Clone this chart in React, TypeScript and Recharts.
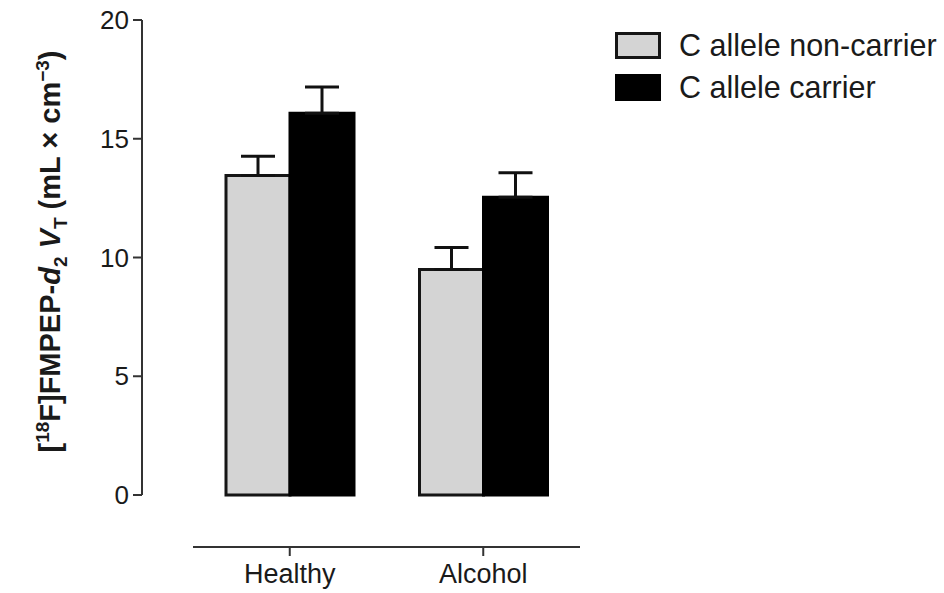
import { BarChart, Bar, XAxis, YAxis, ErrorBar, Legend } from "recharts";

const GROUPS = ["Healthy", "Alcohol"];
const SERIES_NAMES = ["C allele non-carrier", "C allele carrier"];
const NON_CARRIER = [13.45, 9.5];
const NON_CARRIER_SEM = [0.81, 0.92];
const CARRIER = [16.07, 12.54];
const CARRIER_SEM = [1.11, 1.03];
const Y_TICKS = [0, 5, 10, 15, 20];

// one-sided (upward) error bars: [below, above]
const data = GROUPS.map((g, i) => ({
  group: g,
  nonCarrier: NON_CARRIER[i],
  nonCarrierErr: [0, NON_CARRIER_SEM[i]],
  carrier: CARRIER[i],
  carrierErr: [0, CARRIER_SEM[i]],
}));

const FONT = "'Liberation Sans', Arial, Helvetica, sans-serif";
const INK = "#1a1a1a";
const AXIS = "#333";
const BAR_STYLES = [
  { fill: "#d4d4d4", stroke: "#151515" },
  { fill: "#000000", stroke: "#000000" },
];

function YTitle(props: any) {
  const { viewBox } = props;
  const x = viewBox.x + 60;
  const y = viewBox.y + viewBox.height / 2 - 6;
  return (
    <text
      transform={`translate(${x},${y}) rotate(-90)`}
      textAnchor="middle"
      fontFamily={FONT}
      fontWeight="bold"
      fontSize={29}
      fill={INK}
      style={{ whiteSpace: "pre" }}
    >
      <tspan>[</tspan>
      <tspan fontSize={19} dy={-11}>18</tspan>
      <tspan dy={11}>F]FMPEP-</tspan>
      <tspan fontStyle="italic">d</tspan>
      <tspan fontSize={19} dy={7}>2</tspan>
      <tspan dy={-7}> </tspan>
      <tspan fontStyle="italic">V</tspan>
      <tspan fontSize={19} dy={7}>T</tspan>
      <tspan dy={-7}> (mL × cm</tspan>
      <tspan fontSize={19} dy={-11}>−3</tspan>
      <tspan dy={11}>)</tspan>
    </text>
  );
}

function LegendContent({ payload }: any) {
  const items = [...(payload || [])].sort(
    (a: any, b: any) => SERIES_NAMES.indexOf(a.value) - SERIES_NAMES.indexOf(b.value)
  );
  return (
    <div>
      {items.map((entry: any) => {
        const s = BAR_STYLES[SERIES_NAMES.indexOf(entry.value)];
        return (
          <div key={entry.value} style={{ display: "flex", alignItems: "center", height: 42.5 }}>
            <span
              style={{
                display: "inline-block",
                width: 46,
                height: 27,
                boxSizing: "border-box",
                background: s.fill,
                border: `3px solid ${s.stroke}`,
              }}
            />
            <span style={{ marginLeft: 18, fontSize: 30.5, fontFamily: FONT, color: INK }}>
              {entry.value}
            </span>
          </div>
        );
      })}
    </div>
  );
}

export default function App() {
  return (
    <div style={{ position: "absolute", left: 0, top: 0, background: "#fff" }}>
      <BarChart
        width={944}
        height={593}
        data={data}
        margin={{ top: 20, right: 364, bottom: 0, left: 0 }}
        barGap={0}
        barSize={64}
      >
        <XAxis xAxisId="bars" dataKey="group" height={52} axisLine={false} tickLine={false} tick={false} />
        <XAxis
          xAxisId="labels"
          dataKey="group"
          height={46}
          axisLine={{ stroke: AXIS, strokeWidth: 2 }}
          tickLine={{ stroke: AXIS, strokeWidth: 2 }}
          tickSize={9}
          tickMargin={8}
          tick={{ fontSize: 27, fontFamily: FONT, fill: INK }}
        />
        {/* empty axis that only keeps a gap between the y axis and the bars */}
        <YAxis yAxisId="axisA" width={51} axisLine={false} tickLine={false} tick={false} />
        <YAxis
          yAxisId="axisB"
          width={142}
          domain={[0, 20]}
          ticks={Y_TICKS}
          interval={0}
          axisLine={{ stroke: AXIS, strokeWidth: 2 }}
          tickLine={{ stroke: AXIS, strokeWidth: 2 }}
          tickSize={9}
          tickMargin={4}
          tick={{ fontSize: 26, fontFamily: FONT, fill: INK }}
          label={{ content: <YTitle /> }}
        />
        <Bar
          xAxisId="bars"
          yAxisId="axisB"
          dataKey="nonCarrier"
          name={SERIES_NAMES[0]}
          fill={BAR_STYLES[0].fill}
          stroke={BAR_STYLES[0].stroke}
          strokeWidth={3}
          isAnimationActive={false}
        >
          <ErrorBar dataKey="nonCarrierErr" width={17} stroke="#111" strokeWidth={3} />
        </Bar>
        <Bar
          xAxisId="bars"
          yAxisId="axisB"
          dataKey="carrier"
          name={SERIES_NAMES[1]}
          fill={BAR_STYLES[1].fill}
          stroke={BAR_STYLES[1].stroke}
          strokeWidth={3}
          isAnimationActive={false}
        >
          <ErrorBar dataKey="carrierErr" width={17} stroke="#111" strokeWidth={3} />
        </Bar>
        <Legend
          layout="vertical"
          align="center"
          verticalAlign="middle"
          content={<LegendContent />}
          wrapperStyle={{ left: 615, top: 24, width: 325 }}
        />
      </BarChart>
    </div>
  );
}
